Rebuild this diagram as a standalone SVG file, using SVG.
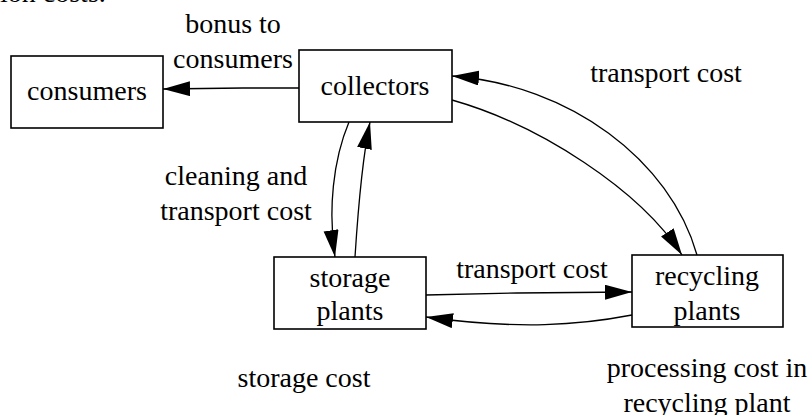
<svg xmlns="http://www.w3.org/2000/svg" width="812" height="415" viewBox="0 0 812 415">
<style>
text{font-family:"Liberation Serif","DejaVu Serif","Times New Roman",serif;font-size:28px;fill:#000;text-anchor:middle}
.box{fill:#fff;stroke:#000;stroke-width:1.6}
.edge{fill:none;stroke:#000;stroke-width:1.3;marker-end:url(#ah)}
</style>
<defs>
<marker id="ah" markerUnits="userSpaceOnUse" markerWidth="28" markerHeight="16" refX="27" refY="7.5" orient="auto">
<path d="M0,0 L27,7.5 L0,15 z" fill="#000"/>
</marker>
</defs>
<rect width="812" height="415" fill="#fff"/>
<text x="0" y="2" style="text-anchor:start" font-family="Liberation Serif, serif">ion costs.</text>
<g id="connectors">
<path class="edge" d="M299,88 L243,88 L163,89"/>
<path class="edge" d="M452,100 C540,125 640,190 682,255"/>
<path class="edge" d="M697,255 C670,160 570,85 452,76"/>
<path class="edge" d="M349,122 C333,160 328,210 335,257"/>
<path class="edge" d="M355,257 C358,210 362,160 370,122"/>
<path class="edge" d="M426,295 L517,293 L632,292"/>
<path class="edge" d="M632,315 C580,325 520,330 426,317"/>
</g>
<g id="labels" font-family="Liberation Serif, serif">
<text x="233" y="33">bonus to</text>
<text x="233" y="68">consumers</text>
<text x="666" y="82">transport cost</text>
<text x="236" y="185">cleaning and</text>
<text x="236" y="220">transport cost</text>
<text x="532" y="278">transport cost</text>
<text x="304" y="387">storage cost</text>
<text x="707" y="377">processing cost in</text>
<text x="707" y="412">recycling plant</text>
</g>
<g id="consumers">
<rect class="box" x="11" y="56" width="152" height="72"/>
<text x="87" y="100">consumers</text>
</g>
<g id="collectors">
<rect class="box" x="299" y="50" width="153" height="72"/>
<text x="375" y="95">collectors</text>
</g>
<g id="storage">
<rect class="box" x="274" y="257" width="152" height="72"/>
<text x="350" y="287">storage</text>
<text x="350" y="320">plants</text>
</g>
<g id="recycling">
<rect class="box" x="632" y="255" width="151" height="72"/>
<text x="707" y="285">recycling</text>
<text x="707" y="320">plants</text>
</g>
</svg>
